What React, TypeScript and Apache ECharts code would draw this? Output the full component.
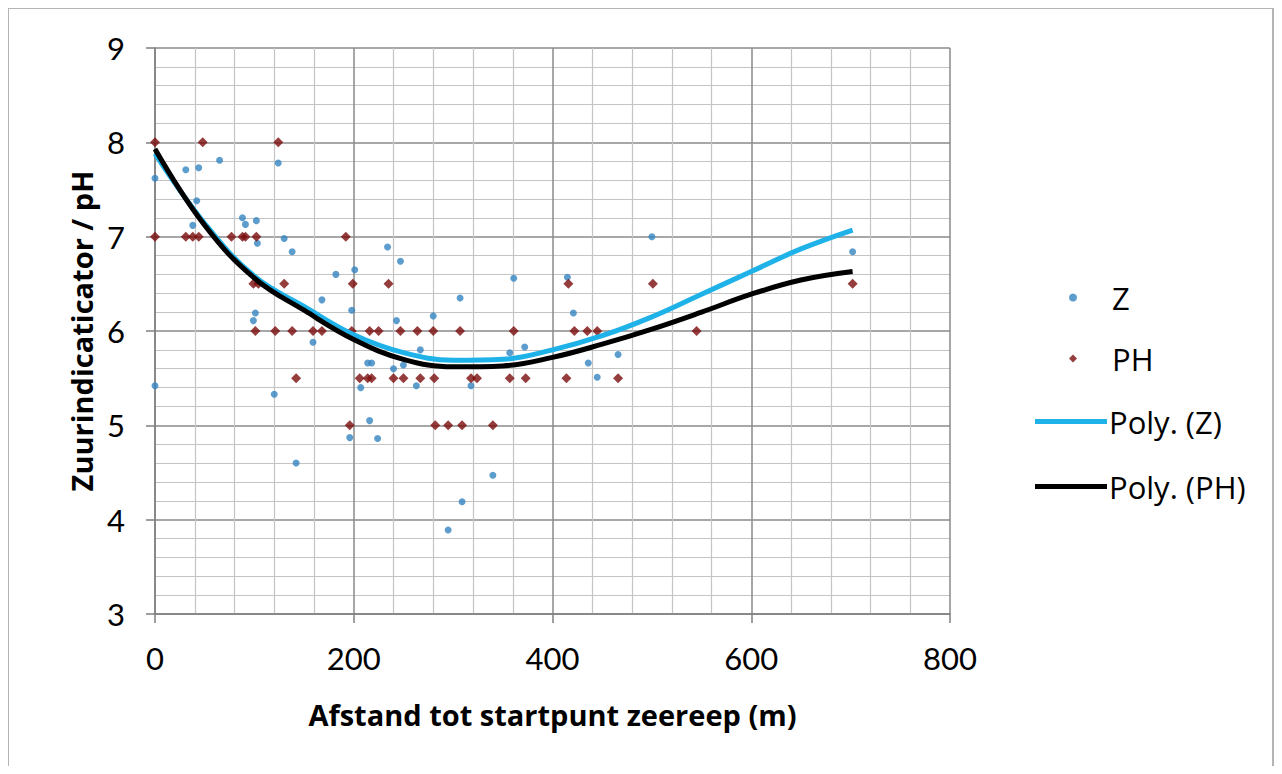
import React, { useEffect, useRef } from "react";
import * as echarts from "echarts";

const xTicks = [0, 200, 400, 600, 800];
const yTicks = [3, 4, 5, 6, 7, 8, 9];

const zPoints: [number, number][] = [
  [0, 7.62], [0, 5.42], [31, 7.71], [44, 7.73], [65, 7.81], [42, 7.38], [38, 7.12],
  [88, 7.2], [91, 7.13], [102, 7.17], [124, 7.78], [130, 6.98], [138, 6.84], [103, 6.93],
  [182, 6.6], [168, 6.33], [101, 6.19], [99, 6.11], [234, 6.89], [247, 6.74], [201, 6.65],
  [198, 6.22], [243, 6.11], [159, 5.88], [214, 5.66], [218, 5.66], [240, 5.6], [250, 5.64],
  [267, 5.8], [207, 5.4], [263, 5.42], [120, 5.33], [216, 5.05], [196, 4.87], [224, 4.86],
  [142, 4.6], [280, 6.16], [307, 6.35], [318, 5.42], [340, 4.47], [309, 4.19], [295, 3.89],
  [361, 6.56], [415, 6.57], [500, 7.0], [421, 6.19], [372, 5.83], [466, 5.75], [436, 5.66],
  [445, 5.51], [702, 6.84], [357, 5.77],
];

const phPoints: [number, number][] = [
  [0, 8], [48, 8], [124, 8],
  [0, 7], [31, 7], [38, 7], [44, 7], [77, 7], [88, 7], [91, 7], [102, 7], [192, 7],
  [99, 6.5], [104, 6.5], [130, 6.5], [199, 6.5], [235, 6.5], [416, 6.5], [501, 6.5], [702, 6.5],
  [101, 6], [121, 6], [138, 6], [159, 6], [168, 6], [198, 6], [216, 6], [225, 6], [247, 6],
  [264, 6], [280, 6], [307, 6], [361, 6], [422, 6], [435, 6], [445, 6], [545, 6],
  [142, 5.5], [206, 5.5], [214, 5.5], [218, 5.5], [240, 5.5], [250, 5.5], [267, 5.5],
  [281, 5.5], [318, 5.5], [324, 5.5], [357, 5.5], [373, 5.5], [414, 5.5], [466, 5.5],
  [196, 5], [282, 5], [295, 5], [309, 5], [340, 5],
];

// Trend lines
const trendX = [0, 50, 100, 150, 200, 250, 300, 350, 400, 450, 500, 550, 600, 650, 702];
const polyZ = [7.88, 7.14, 6.58, 6.26, 5.96, 5.77, 5.69, 5.7, 5.8, 5.95, 6.15, 6.39, 6.63, 6.87, 7.07];
const polyPH = [7.93, 7.12, 6.56, 6.22, 5.91, 5.7, 5.62, 5.63, 5.72, 5.86, 6.02, 6.2, 6.39, 6.54, 6.63];

const FONT = "Lato";
const TITLE_FONT = "Open Sans";

export default function App() {
  const ref = useRef<HTMLDivElement>(null);
  useEffect(() => {
    if (!ref.current) return;
    const chart = echarts.init(ref.current, undefined, { renderer: "svg" });
    const zLine = trendX.map((x, i) => [x, polyZ[i]]);
    const phLine = trendX.map((x, i) => [x, polyPH[i]]);
    chart.setOption({
      animation: false,
      backgroundColor: "#ffffff",
      textStyle: { fontFamily: FONT },
      graphic: [
        {
          type: "rect",
          shape: { x: 0, y: 0, width: 1265, height: 770 },
          style: { fill: "none", stroke: "#b4b4b4", lineWidth: 2 },
          silent: true,
        },
      ],
      grid: { left: 147, top: 40, width: 795, height: 566 },
      legend: [
        {
          orient: "vertical",
          left: 1056,
          top: 269,
          itemWidth: 8,
          itemHeight: 8,
          itemGap: 30,
          textStyle: { fontSize: 31, color: "#000", fontFamily: TITLE_FONT, padding: [0, 0, 0, 30] },
          data: [
            { name: "Z", icon: "circle" },
            { name: "PH", icon: "diamond" },
          ],
        },
        {
          orient: "vertical",
          left: 1022,
          top: 393,
          itemWidth: 72,
          itemHeight: 5,
          itemGap: 34,
          textStyle: { fontSize: 31, color: "#000", fontFamily: TITLE_FONT, padding: [0, 0, 0, -3] },
          data: [
            { name: "Poly. (Z)", icon: "rect" },
            { name: "Poly. (PH)", icon: "rect" },
          ],
        },
      ],
      xAxis: {
        type: "value",
        min: 0,
        max: 800,
        interval: 200,
        name: "Afstand tot startpunt zeereep (m)",
        nameLocation: "middle",
        nameGap: 86,
        nameTextStyle: { fontSize: 29, fontWeight: "bold", color: "#000", fontFamily: TITLE_FONT },
        axisLine: { lineStyle: { color: "#7f7f7f", width: 1.5 } },
        axisTick: { show: true, length: 9, lineStyle: { color: "#7f7f7f", width: 1.5 } },
        axisLabel: { fontSize: 31, color: "#000", margin: 28, fontFamily: FONT },
        splitLine: { show: true, lineStyle: { color: "#8a8a8a", width: 1.5 } },
        minorTick: { show: false, splitNumber: 5 },
        minorSplitLine: { show: true, lineStyle: { color: "#c4c4c4", width: 1.2 } },
      },
      yAxis: {
        type: "value",
        min: 3,
        max: 9,
        interval: 1,
        name: "Zuurindicaticator / pH",
        nameLocation: "middle",
        nameGap: 55,
        nameTextStyle: { fontSize: 29, fontWeight: "bold", color: "#000", fontFamily: TITLE_FONT },
        axisLine: { show: true, lineStyle: { color: "#7f7f7f", width: 1.5 } },
        axisTick: { show: true, length: 9, lineStyle: { color: "#7f7f7f", width: 1.5 } },
        axisLabel: { fontSize: 31, color: "#000", margin: 30, fontFamily: FONT },
        splitLine: { show: true, lineStyle: { color: "#8a8a8a", width: 1.5 } },
        minorTick: { show: false, splitNumber: 5 },
        minorSplitLine: { show: true, lineStyle: { color: "#c4c4c4", width: 1.2 } },
      },
      series: [
        {
          name: "Z",
          type: "scatter",
          data: zPoints,
          symbol: "circle",
          symbolSize: 7,
          itemStyle: { color: "#3585c0" },
        },
        {
          name: "PH",
          type: "scatter",
          data: phPoints,
          symbol: "diamond",
          symbolSize: 10,
          itemStyle: { color: "#7a0c0c" },
        },
        {
          name: "Poly. (Z)",
          type: "line",
          data: zLine,
          smooth: 0.4,
          showSymbol: false,
          symbol: "none",
          lineStyle: { color: "#1eb2e8", width: 5 },
          itemStyle: { color: "#1eb2e8" },
        },
        {
          name: "Poly. (PH)",
          type: "line",
          data: phLine,
          smooth: 0.4,
          showSymbol: false,
          symbol: "none",
          lineStyle: { color: "#000000", width: 5 },
          itemStyle: { color: "#000000" },
        },
      ],
    });
    return () => chart.dispose();
  }, []);
  return <div ref={ref} style={{ width: 1266, height: 758 }} />;
}
